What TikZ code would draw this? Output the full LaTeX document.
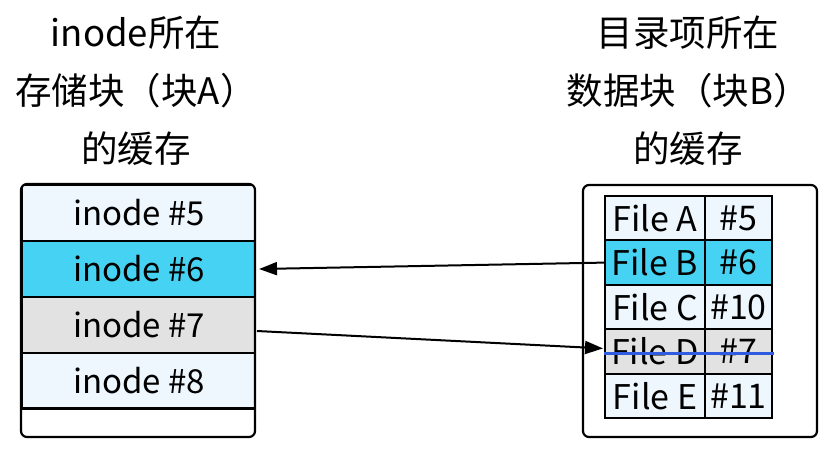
\documentclass[tikz,border=0pt]{standalone}
\usepackage{fontspec}
\setmainfont{Noto Sans CJK SC}
\usetikzlibrary{arrows.meta,calc}
\definecolor{rowlight}{HTML}{EEF6FE}
\definecolor{rowcyan}{HTML}{46D3F3}
\definecolor{rowgrey}{HTML}{E2E2E2}
\definecolor{strike}{HTML}{2E5BE0}
\tikzset{
  x=1pt, y=-1pt,
  title/.style={font=\fontsize{36.5}{40}\selectfont, align=center, inner sep=0pt},
  slot/.style={draw, line width=2pt, minimum width=234pt, minimum height=56pt,
    anchor=north west, inner sep=0pt, font=\fontsize{33}{38}\selectfont},
  cell/.style={draw, line width=2pt, minimum height=44.4pt, anchor=north west,
    inner sep=0pt, font=\fontsize{34}{38}\selectfont},
  namecell/.style={cell, minimum width=100pt},
  numcell/.style={cell, minimum width=67pt},
  frame/.style={draw, line width=2.2pt, rounded corners=6pt},
  link/.style={line width=2pt, -{Triangle[length=18pt,width=13pt]}},
}
\begin{document}
\begin{tikzpicture}
\useasboundingbox (0,0) rectangle (837,451);

% headings
\node[title] (ta) at (136,91) {inode所在\\[18pt]存储块（块A）\\[18pt]的缓存};
\node[title] (tb) at (688,91) {目录项所在\\[18pt]数据块（块B）\\[18pt]的缓存};

% inode block cache
\begin{scope}
  \clip[rounded corners=6pt] (21,184) rectangle (255,437);
  \node[slot, fill=rowlight] (i5) at (21,184) {inode \#5};
  \node[slot, fill=rowcyan]  (i6) at (21,240) {inode \#6};
  \node[slot, fill=rowgrey]  (i7) at (21,296) {inode \#7};
  \node[slot, fill=rowlight] (i8) at (21,352) {inode \#8};
\end{scope}
\draw[line width=2pt] (21,408) -- (255,408);
\draw[frame] (21,184) rectangle (255,437);

% directory entry block cache
\draw[frame] (583,185) rectangle (817,437);
\node[namecell, fill=rowlight] (fa) at (604,195.0) {File A};
\node[numcell,  fill=rowlight] (na) at (704,195.0) {\#5};
\node[namecell, fill=rowcyan]  (fb) at (604,239.4) {File B};
\node[numcell,  fill=rowcyan]  (nb) at (704,239.4) {\#6};
\node[namecell, fill=rowlight] (fc) at (604,283.8) {File C};
\node[numcell,  fill=rowlight] (nc) at (704,283.8) {\#10};
\node[namecell, fill=rowgrey]  (fd) at (604,328.2) {File D};
\node[numcell,  fill=rowgrey]  (nd) at (704,328.2) {\#7};
\node[namecell, fill=rowlight] (fe) at (604,372.6) {File E};
\node[numcell,  fill=rowlight] (ne) at (704,372.6) {\#11};

% deleted entry
\draw[strike, line width=3pt] ($(fd.west)+(0,2)$) -- ($(nd.east)+(1,2)$);

% links between the two caches
\draw[link] (fb.west) -- ($(i6.east)+(2,0)$);
\coordinate (i7out) at ($(i7.east)+(0,6)$);
\draw[link] (i7out) -- ($(fd.west)+(-1,-3)$);
\end{tikzpicture}
\end{document}
